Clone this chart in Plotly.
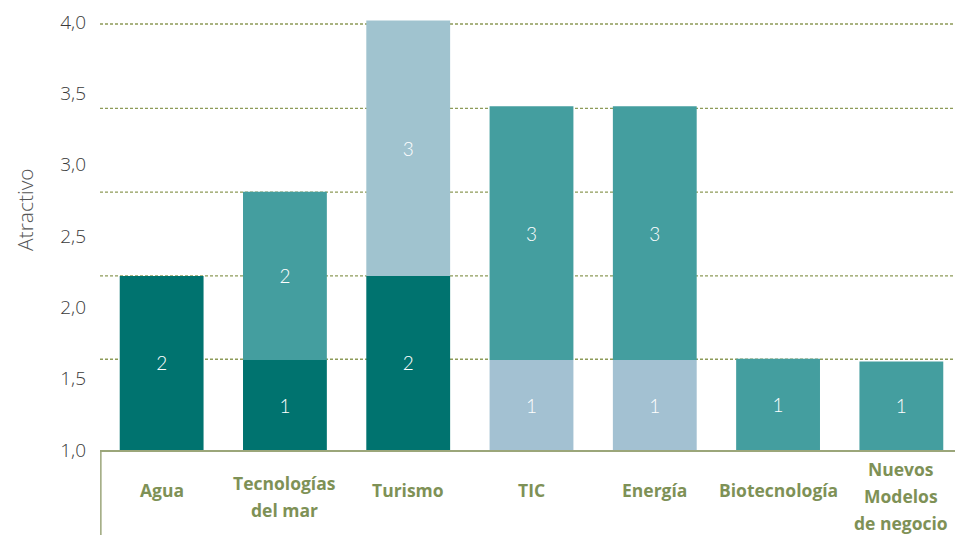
import plotly.graph_objects as go

# ---- data ----
categories = ["Agua", "Tecnologías<br>del mar", "Turismo", "TIC", "Energía",
              "Biotecnología", "Nuevos<br>Modelos<br>de negocio"]
base_value = 1.0
lower_top = [2.22, 1.63, 2.22, 1.63, 1.63, 1.64, 1.62]
upper_top = [None, 2.81, 4.01, 3.41, 3.41, None, None]
lower_labels = ["2", "1", "2", "1", "1", "1", "1"]
upper_labels = ["", "2", "3", "3", "3", "", ""]
lower_colors = ["#00736f", "#00736f", "#00736f", "#a3c1d2", "#a3c1d2", "#449e9f", "#449e9f"]
upper_colors = ["#449e9f", "#449e9f", "#a0c3cf", "#449e9f", "#449e9f", "#449e9f", "#449e9f"]
gridline_values = [1.636, 2.221, 2.808, 3.395, 3.986]
tick_values = [1.0, 1.5, 2.0, 2.5, 3.0, 3.5, 4.0]
tick_text = ["1,0", "1,5", "2,0", "2,5", "3,0", "3,5", "4,0"]
y_title = "Atractivo"

# ---- layout constants (page body has an 8px margin) ----
OFF = 8
W, H = 963 - OFF, 535 - OFF
ML, MR, MT, MB = 100 - OFF, 0, 10 - OFF, 85
plot_h = H - MT - MB
px_per_unit = 142.67
y_max = base_value + plot_h / px_per_unit
axis_px = H - MB  # baseline y in figure pixels

lower_h = [t - base_value for t in lower_top]
upper_base = list(lower_top)
upper_h = [(u - l) if u is not None else 0 for u, l in zip(upper_top, lower_top)]

text_font = dict(family="Lato", size=19, color="white", weight=300)

fig = go.Figure()
fig.add_trace(go.Bar(
    x=categories, y=lower_h, base=[base_value] * len(categories),
    marker=dict(color=lower_colors, line=dict(width=0)),
    text=lower_labels, textposition="inside", insidetextanchor="middle",
    textfont=text_font, width=0.68, hoverinfo="skip", showlegend=False,
    textangle=0,
))
fig.add_trace(go.Bar(
    x=categories, y=upper_h, base=upper_base,
    marker=dict(color=upper_colors, line=dict(width=0)),
    text=upper_labels, textposition="inside", insidetextanchor="middle",
    textfont=text_font, width=0.68, hoverinfo="skip", showlegend=False,
    textangle=0,
))

shapes = []
for g in gridline_values:
    shapes.append(dict(type="line", xref="paper", yref="y", x0=0, x1=1, y0=g, y1=g,
                       line=dict(color="#8d9b58", width=1.3, dash="3px,2px"),
                       layer="below"))
# vertical divider line below axis
shapes.append(dict(type="line", xref="paper", yref="paper", x0=0.001, x1=0.001,
                   y0=0, y1=-MB / plot_h, line=dict(color="#9ba67a", width=1.5)))

annotations = []
for cat in categories:
    lines = cat.split("<br>")
    n = len(lines)
    center = 490 if n == 1 else 496
    spacing = 27
    for i, ln in enumerate(lines):
        ypix = center + (i - (n - 1) / 2) * spacing - OFF
        annotations.append(dict(
            x=cat, xref="x", y=0, yref="paper", yshift=-(ypix - axis_px),
            text=ln, showarrow=False, yanchor="middle", xanchor="center",
            font=dict(family="Open Sans", size=17.5, color="#7e9156", weight="bold")))
annotations.append(dict(
    xref="paper", x=0, xshift=-ML + 1, yref="paper", y=0,
    yshift=axis_px - (210 - OFF),
    text=y_title, textangle=-90, showarrow=False, xanchor="left", yanchor="middle",
    font=dict(family="Open Sans", size=21, color="#555555", weight=300)))

fig.update_layout(
    width=W, height=H,
    margin=dict(l=ML, r=MR, t=MT, b=MB, pad=0),
    paper_bgcolor="white", plot_bgcolor="white",
    barmode="overlay", bargap=0.32,
    shapes=shapes, annotations=annotations,
    uniformtext=dict(mode=False),
    xaxis=dict(type="category", showticklabels=False, showgrid=False, zeroline=False,
               showline=True, linecolor="#9ba67a", linewidth=1.5, ticks="",
               range=[-0.5, len(categories) - 0.5], fixedrange=True),
    yaxis=dict(range=[base_value, y_max], tickvals=tick_values, ticktext=tick_text,
               showgrid=False, zeroline=False, showline=False, ticks="",
               ticklabelstandoff=13,
               tickfont=dict(family="Open Sans", size=19, color="#3a3a3a", weight=300)),
)

fig.write_html("out.html")
